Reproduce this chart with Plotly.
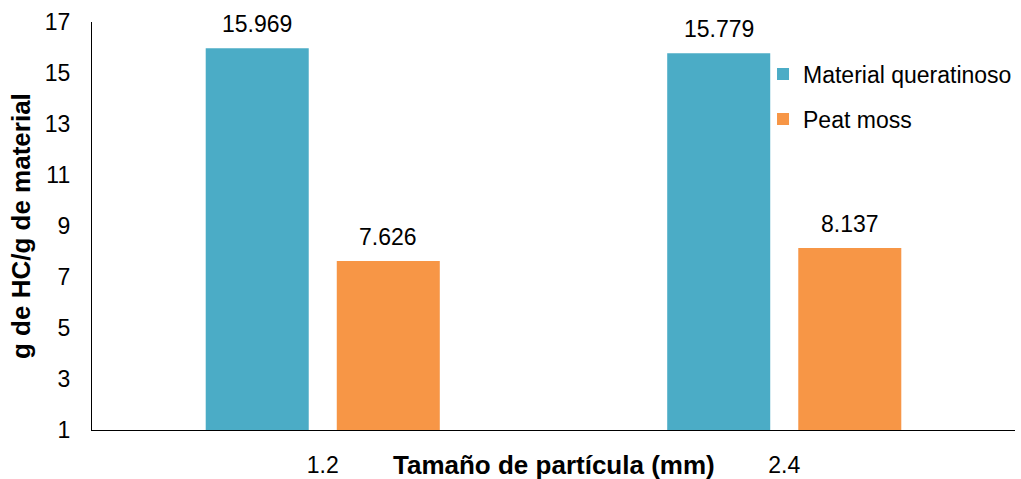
import plotly.graph_objects as go

# Particle sizes (mm) and sorption capacity (g HC / g material)
categories = ["1.2", "2.4"]
series_names = ["Material queratinoso", "Peat moss"]
queratinoso = [15.969, 15.779]
peat_moss = [7.626, 8.137]
y_ticks = [1, 3, 5, 7, 9, 11, 13, 15, 17]

colors = ["#4BACC6", "#F79646"]
font_family = "Liberation Sans, Arial, sans-serif"

# category slots on a linear axis, labelled with the particle sizes
positions = list(range(len(categories)))

fig = go.Figure()
for i, (name, vals) in enumerate(zip(series_names, [queratinoso, peat_moss])):
    fig.add_trace(go.Bar(
        x=positions, y=vals, name=name,
        marker=dict(color=colors[i], line=dict(width=0)),
        legendgroup=f"g{i}",
    ))

# value labels above each bar
offsets = [-65.5, 65.5]
for i, vals in enumerate([queratinoso, peat_moss]):
    for pos, v in zip(positions, vals):
        fig.add_annotation(
            x=pos, y=v, xref="x", yref="y", text=f"{v:.3f}",
            showarrow=False, xshift=offsets[i], yanchor="bottom", yshift=9,
            font=dict(size=23, color="#000000", family=font_family),
        )

# axis titles
fig.add_annotation(
    x=0.5, y=0, xref="paper", yref="paper", text="<b>Tamaño de partícula (mm)</b>",
    showarrow=False, xanchor="center", yanchor="middle", yshift=-35,
    font=dict(size=26, color="#000000", family=font_family),
)
fig.add_annotation(
    x=0, y=0.5, xref="paper", yref="paper", text="<b>g de HC/g de material</b>",
    showarrow=False, textangle=-90, xanchor="center", yanchor="middle", xshift=-71,
    font=dict(size=26, color="#000000", family=font_family),
)

fig.update_layout(
    width=1021, height=479,
    margin=dict(l=92, r=6, t=22, b=49, autoexpand=False),
    paper_bgcolor="white", plot_bgcolor="white",
    barmode="group", bargap=0.432, bargroupgap=0.214,
    font=dict(family=font_family, size=23, color="#000000"),
    showlegend=True,
    legend=dict(
        x=0.727, y=0.925, xanchor="left", yanchor="top",
        traceorder="grouped", tracegroupgap=12,
        font=dict(size=23, color="#000000", family=font_family),
        bgcolor="rgba(0,0,0,0)", itemwidth=30,
    ),
    xaxis=dict(
        range=[-0.5, len(categories) - 0.5],
        tickvals=positions, ticktext=categories, automargin=False,
        showline=True, linecolor="#000000", linewidth=1.3,
        ticks="", showgrid=False, zeroline=False, ticklabelstandoff=14,
        tickfont=dict(size=23, color="#000000"),
    ),
    yaxis=dict(
        range=[1, 17], tickvals=y_ticks, showline=True, linecolor="#000000",
        linewidth=1.3, ticks="", showgrid=False, zeroline=False, automargin=False,
        ticklabelstandoff=16, tickfont=dict(size=23, color="#000000"),
    ),
)

fig.write_html("out.html")
